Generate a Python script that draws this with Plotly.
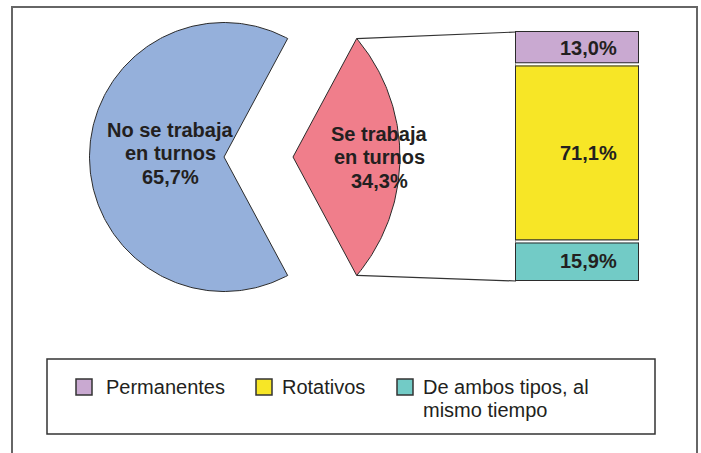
import numpy as np
import plotly.graph_objects as go

# pie (left)
pie_labels = [["No se trabaja", "en turnos"], ["Se trabaja", "en turnos"]]
pie_values = [65.7, 34.3]
pie_colors = ["#95B0DB", "#F07E8B"]

# bar (right), top to bottom
bar_labels = ["Permanentes", "Rotativos", "De ambos tipos, al<br>mismo tiempo"]
bar_values = [13.0, 71.1, 15.9]
bar_colors = ["#C9A9D1", "#F7E626", "#72CBC6"]


def pct(v):
    return f"{v:.1f}".replace(".", ",") + "%"


W, H = 701, 453
FONT = "Liberation Sans, Arial, sans-serif"
INK = "#231F20"
EDGE = "#2B2B2B"

# layout of the drawing (pixels)
cx, cy, R = 224, 157, 134.5
pull = 69
flat = 0.795
bar_x0, bar_x1 = 516, 639
bar_top, bar_bot = 32, 281

fig = go.Figure()

# ---- blue slice
half = pie_values[1] / sum(pie_values) * 180.0
th = np.radians(np.linspace(half, 360 - half, 240))
bx = np.concatenate([[cx], cx + R * np.cos(th), [cx]])
by = np.concatenate([[cy], cy - R * np.sin(th), [cy]])
fig.add_trace(go.Scatter(x=bx, y=by, mode="lines", fill="toself",
                         fillcolor=pie_colors[0], line=dict(color=EDGE, width=1),
                         hoverinfo="skip", showlegend=False))

# ---- pulled slice (flattened arc)
ax = cx + pull
h = np.radians(half)
p1x = ax + R * np.cos(h)
s = R * np.sin(h)
qx = ax + flat * R
c = (qx ** 2 - p1x ** 2 - s ** 2) / (2 * (qx - p1x))
rad = qx - c
phi = np.arcsin(s / rad)
t = np.linspace(phi, -phi, 120)
px = np.concatenate([[ax], c + rad * np.cos(t), [ax]])
py = np.concatenate([[cy], cy - rad * np.sin(t), [cy]])
fig.add_trace(go.Scatter(x=px, y=py, mode="lines", fill="toself",
                         fillcolor=pie_colors[1], line=dict(color=EDGE, width=1),
                         hoverinfo="skip", showlegend=False))

# ---- stacked bar on a percentage axis
total = sum(bar_values)
f_top = (H - bar_top) / H
f_bot = (H - bar_bot) / H
span = total / (f_top - f_bot)
lo = -span * f_bot
hi = lo + span

for lab, val, col in list(zip(bar_labels, bar_values, bar_colors))[::-1]:
    fig.add_trace(go.Bar(x=[(bar_x0 + bar_x1) / 2], y=[val], width=[bar_x1 - bar_x0],
                         marker=dict(color=col, line=dict(color=EDGE, width=1)),
                         xaxis="x", yaxis="y2", hoverinfo="skip", showlegend=False))

# connectors
fig.add_trace(go.Scatter(x=[p1x, bar_x0], y=[cy - s, bar_top], mode="lines",
                         line=dict(color="#333333", width=1.2), hoverinfo="skip", showlegend=False))
fig.add_trace(go.Scatter(x=[p1x, bar_x0], y=[cy + s, bar_bot], mode="lines",
                         line=dict(color="#333333", width=1.2), hoverinfo="skip", showlegend=False))

shapes = []
annotations = []

# gaps between bar segments
upx = span / H
cum = np.cumsum(bar_values[::-1])[:-1]
for b in cum:
    shapes.append(dict(type="line", xref="x", yref="y2", x0=bar_x0 - 0.5, x1=bar_x1 + 0.5,
                       y0=b, y1=b, line=dict(color="white", width=2.5)))
    for d in (-1.6, 1.6):
        shapes.append(dict(type="line", xref="x", yref="y2", x0=bar_x0, x1=bar_x1,
                           y0=b + d * upx, y1=b + d * upx, line=dict(color=EDGE, width=1)))

# bar value labels
bases = np.concatenate([[0], np.cumsum(bar_values[::-1])])
mids = (bases[:-1] + bases[1:]) / 2
for v, m in zip(bar_values[::-1], mids):
    annotations.append(dict(x=(bar_x0 + bar_x1) / 2, y=m, xref="x", yref="y2", xshift=11,
                            text=pct(v), showarrow=False,
                            font=dict(family=FONT, size=20, color=INK, weight="bold")))

# pie labels
label_pos = [(cx - 0.40 * R, cy - 4), (ax + 0.64 * R, cy)]
for lines, v, (lx, ly) in zip(pie_labels, pie_values, label_pos):
    rows = lines + [pct(v)]
    n = len(rows)
    for i, row in enumerate(rows):
        annotations.append(dict(x=lx, y=ly + (i - (n - 1) / 2) * 23.5, xref="x", yref="y",
                                text=row, showarrow=False,
                                font=dict(family=FONT, size=20, color=INK, weight="bold")))

# legend box
shapes.append(dict(type="rect", xref="x", yref="y", x0=47, x1=655, y0=359, y1=434,
                   line=dict(color="#333333", width=1.5), fillcolor="rgba(0,0,0,0)"))
leg_sw = [76, 256, 397]
leg_tx = [104, 280, 421]
for lab, col, sx, tx in zip(bar_labels, bar_colors, leg_sw, leg_tx):
    shapes.append(dict(type="rect", xref="x", yref="y", x0=sx, x1=sx + 16, y0=379, y1=395,
                       line=dict(color="#333333", width=1.5), fillcolor=col))
    for i, row in enumerate(lab.split("<br>")):
        annotations.append(dict(x=tx, y=387 + i * 23, xref="x", yref="y", xanchor="left",
                                text=row, showarrow=False,
                                font=dict(family=FONT, size=20, color=INK)))

# outer frame
shapes.append(dict(type="rect", xref="x", yref="y", x0=12, x1=697, y0=7, y1=480,
                   line=dict(color="#666666", width=2), fillcolor="rgba(0,0,0,0)"))

fig.update_layout(
    width=W, height=H,
    margin=dict(l=0, r=0, t=0, b=0),
    paper_bgcolor="white", plot_bgcolor="white",
    barmode="stack", bargap=0,
    xaxis=dict(range=[0, W], visible=False, fixedrange=True),
    yaxis=dict(range=[H, 0], visible=False, fixedrange=True),
    yaxis2=dict(range=[lo, hi], overlaying="y", visible=False, fixedrange=True),
    shapes=shapes,
    annotations=annotations,
    showlegend=False,
)

fig.write_html("out.html", config={"displayModeBar": False},
               post_script="document.body.style.margin='0';document.body.style.overflow='hidden';")
